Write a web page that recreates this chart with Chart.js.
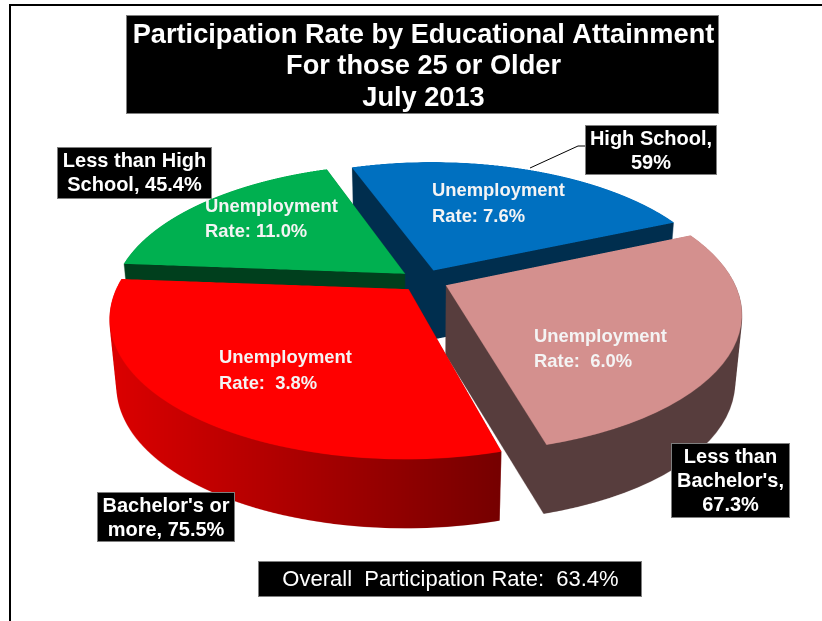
<!DOCTYPE html>
<html>
<head>
<meta charset="utf-8">
<title>Participation Rate by Educational Attainment</title>
<script src="https://cdn.jsdelivr.net/npm/chart.js@4/dist/chart.umd.min.js"></script>
<style>
  html, body { margin: 0; padding: 0; background: #fff; overflow: hidden; }
  #wrap { position: relative; width: 822px; height: 621px; }
</style>
</head>
<body>
<div id="wrap"><canvas id="pie" width="822" height="621"></canvas></div>
<script>
// Slices, clockwise from High School
const categories = ["High School", "Less than Bachelor's", "Bachelor's or more", "Less than High School"];
const participation = [59, 67.3, 75.5, 45.4];
const unemployment = ["Rate: 7.6%", "Rate:  6.0%", "Rate:  3.8%", "Rate: 11.0%"];

const titleLines = ["Participation Rate by Educational Attainment", "For those 25 or Older", "July 2013"];
const calloutLines = [["High School,", "59%"], ["Less than", "Bachelor's,", "67.3%"], ["Bachelor's or", "more, 75.5%"], ["Less than High", "School, 45.4%"]];
const overallText = "Overall  Participation Rate:  63.4%";

const topColors = ["#0070C0", "#D4908E", "#FF0000", "#00B050"];
const sideLeft = ["#002E4E", "#573D3D", "#DC0000", "#003F1D"];
const sideRight = ["#002E4E", "#573D3D", "#760000", "#003F1D"];

// Tilted plane the flat pie gets projected on, and thickness of the disc
const view = { cx: 424, cy: 280.5, squash: 0.462, perspective: 0.00067, depth: 69, taper: 0.023 };
const WIDTH = 822, HEIGHT = 621, OVER = 2;
const FLAT = 1360; // offscreen flat pie, in oversampled pixels

// Back to front, so the nearer slices cover the cut faces of the others
const drawOrder = [0, 3, 1, 2];

const boxes = {
  title: { x: 126, y: 15, w: 593, h: 99, rows: [36, 67, 99] },
  callouts: [
    { x: 585, y: 125, w: 132, h: 50, rows: [139, 163] },
    { x: 671, y: 443, w: 119, h: 75, rows: [457, 481, 505] },
    { x: 97, y: 492, w: 138, h: 50, rows: [506, 530] },
    { x: 57, y: 147, w: 155, h: 52, rows: [161, 185] },
  ],
  overall: { x: 258, y: 561, w: 384, h: 36 },
};
const rateText = [
  { x: 432, rows: [191, 217] },
  { x: 534, rows: [337, 362] },
  { x: 219, rows: [358, 384] },
  { x: 205, rows: [207, 232] },
];

function newLayer(w, h) {
  const c = document.createElement("canvas");
  c.width = w;
  c.height = h;
  return c;
}

// Draw one arc flat with the library, then resample it row by row onto the tilted plane
function projectArc(arc, flat, target) {
  const fc = flat.getContext("2d");
  fc.setTransform(1, 0, 0, 1, 0, 0);
  fc.clearRect(0, 0, FLAT, FLAT);
  fc.setTransform(OVER, 0, 0, OVER, FLAT / 2 - arc.x * OVER, FLAT / 2 - arc.y * OVER);
  arc.draw(fc);

  const tc = target.getContext("2d");
  tc.clearRect(0, 0, target.width, target.height);
  const half = FLAT / 2 / OVER;
  for (let row = 0; row < target.height; row++) {
    const dy = row / OVER - view.cy;
    const denom = view.squash + view.perspective * dy;
    if (denom <= 0) continue;
    const v = dy / denom;
    if (Math.abs(v) >= half - 2) continue;
    const stretch = denom / view.squash; // 1 / w
    const srcH = (1 / OVER / view.squash) * OVER;
    const dx = (view.cx - half * stretch) * OVER;
    tc.drawImage(flat, 0, FLAT / 2 + v * OVER, FLAT, srcH, dx, row, FLAT * stretch, 1);
  }
}

const pie3d = {
  id: "pie3d",
  beforeDatasetsDraw(chart) {
    const ctx = chart.ctx;
    const arcs = chart.getDatasetMeta(0).data;
    const W = WIDTH * OVER, H = HEIGHT * OVER;
    const flat = newLayer(FLAT, FLAT);
    const top = newLayer(W, H);
    const side = newLayer(W, H);
    const sc = side.getContext("2d");

    drawOrder.forEach((i) => {
      projectArc(arcs[i], flat, top);

      // stack the slice downwards for the wall, then paint it
      sc.globalCompositeOperation = "source-over";
      sc.clearRect(0, 0, W, H);
      for (let d = view.depth * OVER; d >= 1; d--) {
        const k = 1 - (view.taper * d) / (view.depth * OVER);
        sc.drawImage(top, view.cx * OVER * (1 - k), d, W * k, H);
      }
      const grad = sc.createLinearGradient(110 * OVER, 0, 500 * OVER, 0);
      grad.addColorStop(0, sideLeft[i]);
      grad.addColorStop(1, sideRight[i]);
      sc.globalCompositeOperation = "source-in";
      sc.fillStyle = grad;
      sc.fillRect(0, 0, W, H);

      ctx.save();
      ctx.imageSmoothingQuality = "high";
      ctx.drawImage(side, 0, 0, WIDTH, HEIGHT);
      ctx.drawImage(top, 0, 0, WIDTH, HEIGHT);
      ctx.restore();
    });
    return false;
  },
};

function blackBox(ctx, b) {
  ctx.fillStyle = "#000";
  ctx.fillRect(b.x, b.y, b.w, b.h);
  ctx.strokeStyle = "#7f7f7f";
  ctx.lineWidth = 1;
  ctx.strokeRect(b.x + 0.5, b.y + 0.5, b.w - 1, b.h - 1);
}

const annotations = {
  id: "annotations",
  beforeDraw(chart) {
    const ctx = chart.ctx;
    // picture frame
    ctx.fillStyle = "#000";
    ctx.fillRect(9, 4, WIDTH - 9, 2);
    ctx.fillRect(9, 4, 2, HEIGHT - 4);
  },
  afterDraw(chart) {
    const ctx = chart.ctx;
    ctx.save();
    ctx.textBaseline = "middle";

    // leader line to the High School box
    ctx.strokeStyle = "#000";
    ctx.lineWidth = 1;
    ctx.beginPath();
    ctx.moveTo(530, 168);
    ctx.lineTo(578, 146);
    ctx.lineTo(585, 146);
    ctx.stroke();

    blackBox(ctx, boxes.title);
    ctx.fillStyle = "#fff";
    ctx.textAlign = "center";
    ctx.font = "bold 27.2px 'Liberation Sans', Arial, sans-serif";
    titleLines.forEach((line, i) => {
      ctx.fillText(line, boxes.title.x + boxes.title.w / 2 + 1, boxes.title.rows[i]);
    });

    ctx.font = "bold 20px 'Liberation Sans', Arial, sans-serif";
    calloutLines.forEach((lines, i) => {
      const b = boxes.callouts[i];
      blackBox(ctx, b);
      ctx.fillStyle = "#fff";
      lines.forEach((line, j) => ctx.fillText(line, b.x + b.w / 2, b.rows[j]));
    });

    blackBox(ctx, boxes.overall);
    ctx.fillStyle = "#fff";
    ctx.font = "22px 'Liberation Sans', Arial, sans-serif";
    ctx.fillText(overallText, boxes.overall.x + boxes.overall.w / 2 + 0.5, boxes.overall.y + 19);

    ctx.textAlign = "left";
    ctx.font = "bold 18.4px 'Liberation Sans', Arial, sans-serif";
    ctx.fillStyle = "#f4f4f4";
    unemployment.forEach((rate, i) => {
      const t = rateText[i];
      ctx.fillText("Unemployment", t.x, t.rows[0]);
      ctx.fillText(rate, t.x, t.rows[1]);
    });
    ctx.restore();
  },
};

new Chart(document.getElementById("pie"), {
  type: "pie",
  data: {
    labels: categories,
    datasets: [{
      data: participation,
      backgroundColor: topColors,
      borderWidth: 0,
      offset: 96,
      radius: 287.5,
    }],
  },
  options: {
    responsive: false,
    animation: false,
    rotation: -19.5,
    layout: { padding: 0 },
    plugins: { legend: { display: false }, title: { display: false }, tooltip: { enabled: false } },
  },
  plugins: [annotations, pie3d],
});
</script>
</body>
</html>
